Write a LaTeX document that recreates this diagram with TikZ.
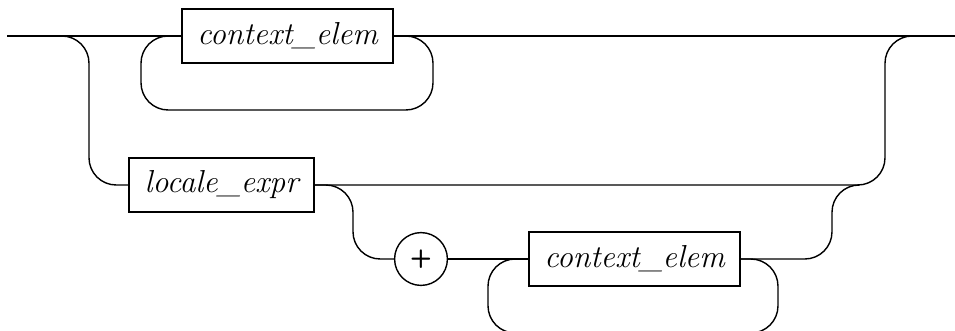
\documentclass[tikz,border=0pt]{standalone}
\usepackage{amsmath}
\usetikzlibrary{positioning}

\begin{document}
\begin{tikzpicture}[x=0.0125cm, y=-0.0125cm, line width=0.5pt,
  every node/.style={draw, minimum height=0.675cm, font=\fontsize{11.3}{13.8}\selectfont\itshape},
  rail/.style={rounded corners=0.34cm}]
  \useasboundingbox (0,0) rectangle (955,331);
  \coordinate (in) at (7,36);
  \coordinate (out) at (955,36);
  \node[minimum width=2.64cm] (ctx1) at (287.5,36) {context\_elem};
  \node[minimum width=2.31cm] (locale) at (221.5,185) {locale\_expr};
  \node[circle, minimum size=0.66cm, inner sep=0pt, font=\sffamily\bfseries\small] (plus) at (421,259) {+};
  \node[minimum width=2.64cm, right=1cm of plus] (ctx2) {context\_elem};

  \coordinate (down1) at (89,185);
  \coordinate (loop1) at (433,110);
  \coordinate (back1) at (141,36);
  \coordinate (down2) at (353,259);
  \coordinate (loop2) at (778,333);
  \coordinate (back2) at (488,259);
  \coordinate (up1) at (885,36);
  \coordinate (up2) at (832,185);
  \coordinate (join) at (858,185);

  \draw (in) -- (ctx1) -- (out);
  \draw[rail] (in) -| (down1) -- (locale);
  \draw[rail] (ctx1.east) -| (loop1) -| (back1) -- (ctx1.west);
  \draw[rail] (locale) -| (up1) -- (out);
  \draw[rail] (locale.east) -| (down2) -- (plus);
  \draw (plus) -- (ctx2);
  \draw[rail] (ctx2.east) -| (loop2) -| (back2) -- (ctx2.west);
  \draw[rail] (ctx2.east) -| (up2) -- (join);
\end{tikzpicture}
\end{document}
